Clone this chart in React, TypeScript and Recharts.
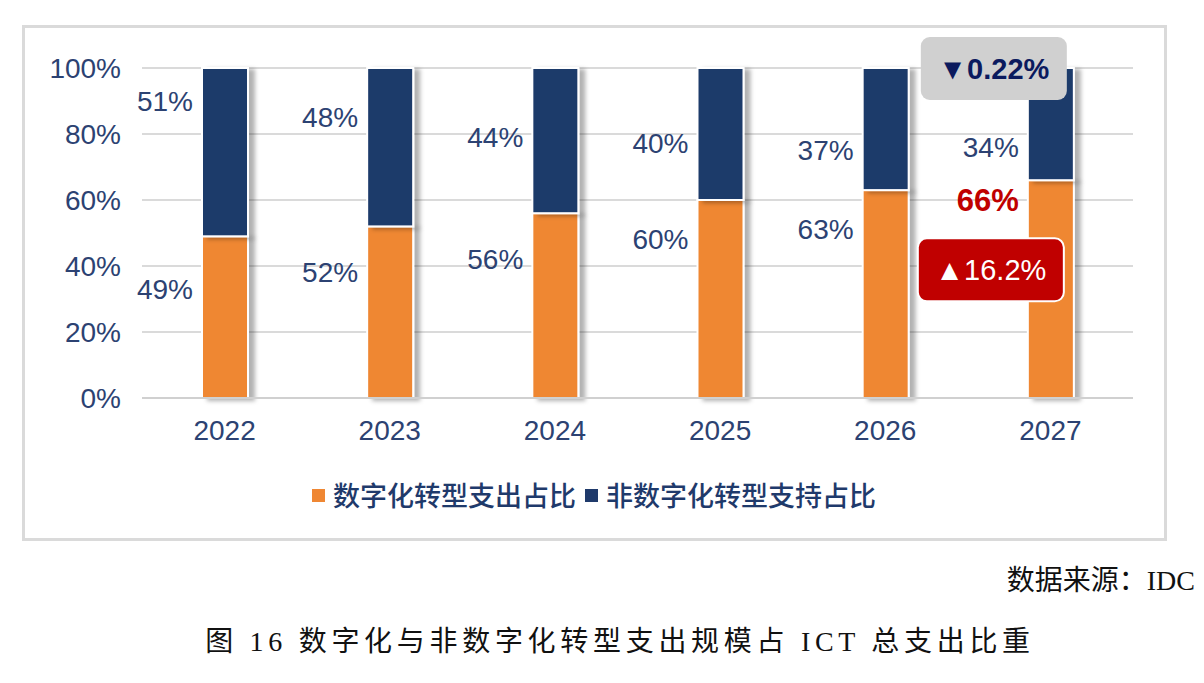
import { BarChart, Bar, XAxis, YAxis, CartesianGrid, LabelList } from 'recharts'

const years = ['2022', '2023', '2024', '2025', '2026', '2027']
const digitalShare = [49, 52, 56, 60, 63, 66]
const nonDigitalShare = [51, 48, 44, 40, 37, 34]
const yTicks = [0, 20, 40, 60, 80, 100]

// where each value label sits, in axis units
const digitalLabelAt = [33, 38, 42, 48, 51, 60]
const nonDigitalLabelAt = [90, 85, 79, 77, 75, 76]

// call-outs on the last year
const nonDigitalChange = '▼0.22%'
const digitalChange = '▲16.2%'
const digitalChangeAt = 39

const seriesNames = ['数字化转型支出占比', '非数字化转型支持占比']
const sourceText = '数据来源：IDC'
const captionText = '图 16 数字化与非数字化转型支出规模占 ICT 总支出比重'

const ORANGE = '#EF8733'
const NAVY = '#1F3A6B'
const TEXT = '#2C4272'
const RED = '#C00000'
const SANS = "'Liberation Sans', Arial, sans-serif"

const chartData = years.map((year, i) => ({
  year,
  digital: digitalShare[i],
  nonDigital: nonDigitalShare[i],
}))

const last = years.length - 1

function ShadowBar(props: any) {
  const { x, y, width, height, fill } = props
  if (!height || height <= 0) return null
  return (
    <rect
      x={x}
      y={y}
      width={width}
      height={height}
      fill={fill}
      stroke="#ffffff"
      strokeWidth={2}
      filter="url(#barShadow)"
    />
  )
}

function box(props: any) {
  const vb = props.viewBox || {}
  return {
    x: props.x ?? vb.x,
    y: props.y ?? vb.y,
    width: props.width ?? vb.width,
    height: props.height ?? vb.height,
  }
}

function DigitalLabel(props: any) {
  const i = props.index
  const { x, y, width, height } = box(props)
  const perUnit = height / digitalShare[i]
  const bottom = y + height
  const ly = bottom - digitalLabelAt[i] * perUnit
  const isLast = i === last
  const cx = x + width / 2
  return (
    <g>
      <text
        x={x - 9}
        y={ly}
        textAnchor="end"
        dominantBaseline="central"
        fontSize={isLast ? 31 : 28}
        fontWeight={isLast ? 'bold' : 'normal'}
        fill={isLast ? RED : TEXT}
        fontFamily={SANS}
      >
        {`${digitalShare[i]}%`}
      </text>
      {isLast && (
        <g>
          <rect
            x={cx - 60 - 73}
            y={bottom - digitalChangeAt * perUnit - 31}
            width={146}
            height={63}
            rx={9}
            fill={RED}
            stroke="#ffffff"
            strokeWidth={2}
          />
          <text
            x={cx - 60}
            y={bottom - digitalChangeAt * perUnit + 1}
            textAnchor="middle"
            dominantBaseline="central"
            fontSize={29}
            fill="#ffffff"
            fontFamily={SANS}
          >
            {digitalChange}
          </text>
        </g>
      )}
    </g>
  )
}

function NonDigitalLabel(props: any) {
  const i = props.index
  const { x, y, width, height } = box(props)
  const perUnit = height / nonDigitalShare[i]
  const bottom = y + height
  const ly = bottom - (nonDigitalLabelAt[i] - digitalShare[i]) * perUnit
  const cx = x + width / 2
  return (
    <g>
      <text
        x={x - 9}
        y={ly}
        textAnchor="end"
        dominantBaseline="central"
        fontSize={28}
        fill={TEXT}
        fontFamily={SANS}
      >
        {`${nonDigitalShare[i]}%`}
      </text>
      {i === last && (
        <g>
          <rect
            x={cx - 57 - 73}
            y={y - 31}
            width={146}
            height={63}
            rx={9}
            fill="#D0D0D0"
          />
          <text
            x={cx - 57}
            y={y + 1}
            textAnchor="middle"
            dominantBaseline="central"
            fontSize={29}
            fontWeight="bold"
            fill="#0B1A5E"
            fontFamily={SANS}
          >
            {nonDigitalChange}
          </text>
        </g>
      )}
    </g>
  )
}

export default function App() {
  return (
    <div
      style={{
        position: 'absolute',
        left: 0,
        top: 0,
        width: 1204,
        height: 683,
        background: '#ffffff',
        overflow: 'hidden',
      }}
    >
      <svg width={0} height={0} style={{ position: 'absolute' }}>
        <defs>
          <filter id="barShadow" x="-20%" y="-5%" width="150%" height="115%">
            <feDropShadow dx={6} dy={2} stdDeviation={2} floodColor="#000000" floodOpacity={0.3} />
          </filter>
        </defs>
      </svg>

      <div
        style={{
          position: 'absolute',
          left: 22,
          top: 25,
          width: 1139,
          height: 510,
          border: '3px solid #DADADA',
        }}
      />

      <div style={{ position: 'absolute', left: 0, top: 0 }}>
        <BarChart
          width={1204}
          height={683}
          data={chartData}
          margin={{ top: 68, right: 71, left: 42, bottom: 255 }}
          barSize={46}
        >
          <CartesianGrid vertical={false} stroke="#DADADA" strokeWidth={2} />
          <XAxis
            dataKey="year"
            tickLine={false}
            axisLine={{ stroke: '#D0D0D0', strokeWidth: 2 }}
            tickMargin={16}
            tick={{ fontSize: 28, fill: TEXT, fontFamily: SANS }}
          />
          <YAxis
            width={100}
            domain={[0, 100]}
            ticks={yTicks}
            tickFormatter={(v) => `${v}%`}
            axisLine={false}
            tickLine={false}
            tickMargin={15}
            tick={{ fontSize: 28, fill: TEXT, fontFamily: SANS }}
          />
          <Bar dataKey="digital" stackId="a" fill={ORANGE} shape={ShadowBar} isAnimationActive={false}>
            <LabelList dataKey="digital" content={DigitalLabel} />
          </Bar>
          <Bar dataKey="nonDigital" stackId="a" fill={NAVY} shape={ShadowBar} isAnimationActive={false}>
            <LabelList dataKey="nonDigital" content={NonDigitalLabel} />
          </Bar>
        </BarChart>
      </div>

      <div
        style={{
          position: 'absolute',
          left: 312,
          top: 478,
          display: 'flex',
          alignItems: 'center',
          fontFamily: "'Noto Sans CJK SC', sans-serif",
          fontSize: 27,
          fontWeight: 500,
          color: NAVY,
          lineHeight: '34px',
          whiteSpace: 'nowrap',
        }}
      >
        <span style={{ width: 13, height: 13, background: ORANGE, marginRight: 8 }} />
        <span style={{ marginRight: 9 }}>{seriesNames[0]}</span>
        <span style={{ width: 13, height: 13, background: NAVY, marginRight: 8 }} />
        <span>{seriesNames[1]}</span>
      </div>

      <div
        style={{
          position: 'absolute',
          right: 9,
          top: 563,
          fontFamily: "'Liberation Serif', 'Noto Sans CJK SC', serif",
          fontSize: 28,
          lineHeight: '36px',
          color: '#111111',
          whiteSpace: 'nowrap',
        }}
      >
        {sourceText}
      </div>

      <div
        style={{
          position: 'absolute',
          left: 0,
          width: 1240,
          top: 624,
          textAlign: 'center',
          fontFamily: "'Liberation Serif', 'Noto Sans CJK SC', serif",
          fontSize: 28,
          letterSpacing: 4.7,
          lineHeight: '36px',
          color: '#111111',
          whiteSpace: 'nowrap',
        }}
      >
        {captionText}
      </div>
    </div>
  )
}
